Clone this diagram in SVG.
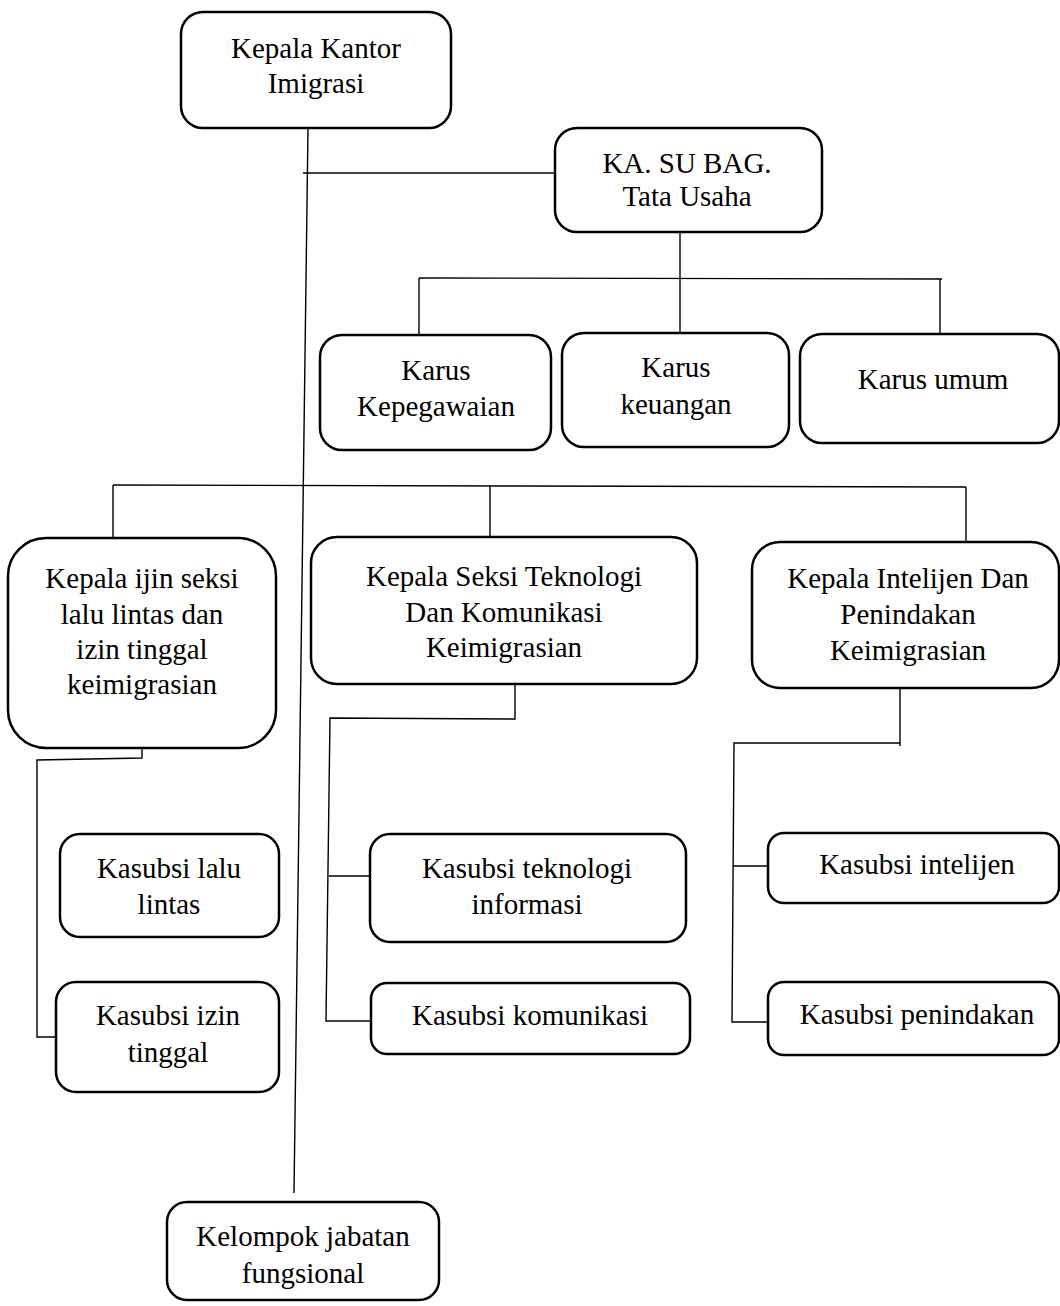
<svg xmlns="http://www.w3.org/2000/svg" width="1060" height="1306" viewBox="0 0 1060 1306">
<style>
.box{fill:#fff;stroke:#000;stroke-width:2.5}
.t{font-family:"Liberation Serif","Times New Roman",serif;font-size:29px;fill:#000;text-anchor:middle}
.c{fill:none;stroke:#000;stroke-width:1.4}
</style>
<rect width="1060" height="1306" fill="#fff"/>
<g id="connectors">
<line class="c" x1="308" y1="128" x2="294" y2="1193"/>
<line class="c" x1="303" y1="173" x2="555" y2="173"/>
<line class="c" x1="680" y1="232" x2="680" y2="334"/>
<line class="c" x1="419" y1="278" x2="942" y2="279"/>
<line class="c" x1="419" y1="278" x2="419" y2="335"/>
<line class="c" x1="940" y1="279" x2="940" y2="334"/>
<line class="c" x1="113" y1="485" x2="966" y2="487"/>
<line class="c" x1="113" y1="485" x2="113" y2="538"/>
<line class="c" x1="490" y1="486" x2="490" y2="537"/>
<line class="c" x1="966" y1="487" x2="966" y2="542"/>
<polyline class="c" points="142,748 142,758 37,760 37,1037 56,1037"/>
<polyline class="c" points="515,684 515,719 330,718 326,1021 371,1021"/>
<line class="c" x1="329" y1="876" x2="370" y2="876"/>
<polyline class="c" points="900,688 900,746"/>
<polyline class="c" points="900,743 734,743 732,1022 768,1022"/>
<line class="c" x1="733" y1="866" x2="768" y2="866"/>
</g>
<g id="n-kepala-kantor">
<rect class="box" x="181" y="12" width="270" height="116" rx="22"/>
<text class="t" x="316" y="58">Kepala Kantor</text>
<text class="t" x="316" y="93">Imigrasi</text>
</g>
<g id="n-kasubbag">
<rect class="box" x="555" y="128" width="267" height="104" rx="22"/>
<text class="t" x="687" y="173">KA. SU BAG.</text>
<text class="t" x="687" y="206">Tata Usaha</text>
</g>
<g id="n-karus-kepegawaian">
<rect class="box" x="320" y="335" width="231" height="115" rx="22"/>
<text class="t" x="436" y="380">Karus</text>
<text class="t" x="436" y="416">Kepegawaian</text>
</g>
<g id="n-karus-keuangan">
<rect class="box" x="562" y="333" width="227" height="114" rx="22"/>
<text class="t" x="676" y="377">Karus</text>
<text class="t" x="676" y="414">keuangan</text>
</g>
<g id="n-karus-umum">
<rect class="box" x="800" y="334" width="259" height="109" rx="22"/>
<text class="t" x="933" y="389">Karus umum</text>
</g>
<g id="n-kepala-ijin">
<rect class="box" x="8" y="538" width="268" height="210" rx="38"/>
<text class="t" x="142" y="588">Kepala ijin seksi</text>
<text class="t" x="142" y="624">lalu lintas dan</text>
<text class="t" x="142" y="659">izin tinggal</text>
<text class="t" x="142" y="694">keimigrasian</text>
</g>
<g id="n-kepala-teknologi">
<rect class="box" x="311" y="537" width="386" height="147" rx="26"/>
<text class="t" x="504" y="586">Kepala Seksi Teknologi</text>
<text class="t" x="504" y="622">Dan Komunikasi</text>
<text class="t" x="504" y="657">Keimigrasian</text>
</g>
<g id="n-kepala-intelijen">
<rect class="box" x="752" y="542" width="307" height="146" rx="28"/>
<text class="t" x="908" y="588">Kepala Intelijen Dan</text>
<text class="t" x="908" y="624">Penindakan</text>
<text class="t" x="908" y="660">Keimigrasian</text>
</g>
<g id="n-kasubsi-lalu-lintas">
<rect class="box" x="60" y="834" width="219" height="103" rx="20"/>
<text class="t" x="169" y="878">Kasubsi lalu</text>
<text class="t" x="169" y="914">lintas</text>
</g>
<g id="n-kasubsi-izin-tinggal">
<rect class="box" x="56" y="982" width="223" height="110" rx="20"/>
<text class="t" x="168" y="1025">Kasubsi izin</text>
<text class="t" x="168" y="1062">tinggal</text>
</g>
<g id="n-kasubsi-teknologi">
<rect class="box" x="370" y="834" width="316" height="108" rx="20"/>
<text class="t" x="527" y="878">Kasubsi teknologi</text>
<text class="t" x="527" y="914">informasi</text>
</g>
<g id="n-kasubsi-komunikasi">
<rect class="box" x="371" y="983" width="319" height="71" rx="16"/>
<text class="t" x="530" y="1025">Kasubsi komunikasi</text>
</g>
<g id="n-kasubsi-intelijen">
<rect class="box" x="768" y="833" width="291" height="70" rx="16"/>
<text class="t" x="917" y="874">Kasubsi intelijen</text>
</g>
<g id="n-kasubsi-penindakan">
<rect class="box" x="768" y="982" width="291" height="73" rx="16"/>
<text class="t" x="917" y="1024">Kasubsi penindakan</text>
</g>
<g id="n-kelompok">
<rect class="box" x="167" y="1202" width="272" height="98" rx="20"/>
<text class="t" x="303" y="1246">Kelompok jabatan</text>
<text class="t" x="303" y="1283">fungsional</text>
</g>
</svg>
